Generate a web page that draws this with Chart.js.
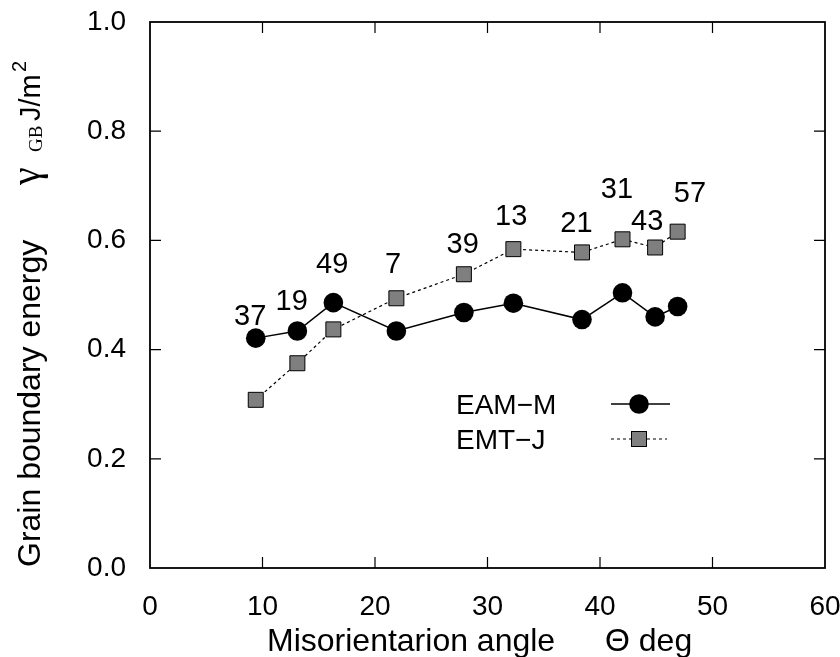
<!DOCTYPE html>
<html>
<head>
<meta charset="utf-8">
<script src="https://cdn.jsdelivr.net/npm/chart.js@4"></script>
<style>
  body { margin: 0; background: #fff; }
  #wrap { width: 840px; height: 657px; }
</style>
</head>
<body>
<div id="wrap"><canvas id="gb-chart"></canvas></div>
<script>
// misorientation angles (deg) and sigma labels
const angles = [9.4, 13.1, 16.3, 21.9, 27.9, 32.3, 38.4, 42.0, 44.9, 46.9];
const sigmaLabels = ['37', '19', '49', '7', '39', '13', '21', '31', '43', '57'];
// where each sigma label sits, in data units
const labelX = [8.9, 12.6, 16.2, 21.6, 27.8, 32.1, 37.9, 41.5, 44.2, 48.0];
const labelY = [0.463, 0.491, 0.558, 0.559, 0.595, 0.647, 0.634, 0.696, 0.637, 0.688];

// grain boundary energies, J/m^2
const eamM = [0.421, 0.434, 0.486, 0.434, 0.468, 0.485, 0.455, 0.504, 0.460, 0.479];
const emtJ = [0.308, 0.375, 0.437, 0.494, 0.538, 0.584, 0.578, 0.602, 0.587, 0.616];

const xTicks = [0, 10, 20, 30, 40, 50, 60];
const yTicks = [0.0, 0.2, 0.4, 0.6, 0.8, 1.0];

const SANS = '"Liberation Sans", Arial, sans-serif';
const SERIF = '"Liberation Serif", "Times New Roman", serif';

function toPoints(ys) {
    return angles.map((a, i) => ({ x: a, y: ys[i] }));
}

const framePlugin = {
    id: 'frame',
    afterDraw(chart) {
        const ctx = chart.ctx;
        const area = chart.chartArea;
        const xs = chart.scales.x;
        const ys = chart.scales.y;
        const tick = 11;

        ctx.save();
        ctx.strokeStyle = '#000';
        ctx.lineWidth = 1.8;
        ctx.strokeRect(area.left, area.top, area.right - area.left, area.bottom - area.top);

        // inward ticks on all four sides
        ctx.lineWidth = 1.2;
        ctx.beginPath();
        xTicks.slice(1, -1).forEach(v => {
            let px = xs.getPixelForValue(v);
            ctx.moveTo(px, area.bottom);
            ctx.lineTo(px, area.bottom - tick);
            ctx.moveTo(px, area.top);
            ctx.lineTo(px, area.top + tick);
        });
        yTicks.slice(1, -1).forEach(v => {
            let py = ys.getPixelForValue(v);
            ctx.moveTo(area.left, py);
            ctx.lineTo(area.left + tick, py);
            ctx.moveTo(area.right, py);
            ctx.lineTo(area.right - tick, py);
        });
        ctx.stroke();

        // sigma labels
        ctx.fillStyle = '#000';
        ctx.font = '29px ' + SANS;
        ctx.textAlign = 'center';
        ctx.textBaseline = 'alphabetic';
        sigmaLabels.forEach((s, i) => {
            let px = xs.getPixelForValue(labelX[i]);
            let py = ys.getPixelForValue(labelY[i]);
            ctx.fillText(s, px, py + 10);
        });

        // x axis title
        ctx.textAlign = 'left';
        ctx.font = '32px ' + SANS;
        ctx.fillText('Misorientarion angle', 267, 651);
        ctx.fillText('\u0398 deg', 605, 651);

        // y axis title, rotated
        ctx.save();
        ctx.translate(40, 0);
        ctx.rotate(-Math.PI / 2);
        ctx.font = '32px ' + SANS;
        ctx.fillText('Grain boundary energy', -567, 0);
        ctx.font = '40px ' + SERIF;
        ctx.fillText('\u03b3', -185, -1);
        ctx.font = '19px ' + SERIF;
        ctx.fillText('GB', -152, 2);
        ctx.font = '29px ' + SANS;
        ctx.fillText('J/m', -121, 0);
        ctx.font = '20px ' + SANS;
        ctx.fillText('2', -72, -14);
        ctx.restore();

        // legend
        ctx.font = '28px ' + SANS;
        ctx.fillText('EAM\u2212M', 456, 414);
        ctx.fillText('EMT\u2212J', 456, 449);

        ctx.lineWidth = 1.5;
        ctx.beginPath();
        ctx.moveTo(611, 404);
        ctx.lineTo(670, 404);
        ctx.stroke();
        ctx.beginPath();
        ctx.arc(639, 404, 9.8, 0, Math.PI * 2);
        ctx.fill();

        ctx.lineWidth = 1.2;
        ctx.setLineDash([3, 3]);
        ctx.beginPath();
        ctx.moveTo(611, 439);
        ctx.lineTo(667, 439);
        ctx.stroke();
        ctx.setLineDash([]);
        ctx.fillStyle = '#7f7f7f';
        ctx.fillRect(631.5, 431.5, 15, 15);
        ctx.lineWidth = 1;
        ctx.strokeRect(631.5, 431.5, 15, 15);
        ctx.restore();
    }
};

const ctx = document.getElementById('gb-chart');
const chart = new Chart(ctx, {
    type: 'scatter',
    data: {
        datasets: [
            {
                label: 'EMT-J',
                data: toPoints(emtJ),
                showLine: true,
                borderColor: '#000',
                borderWidth: 1.2,
                borderDash: [3, 3],
                pointStyle: 'rect',
                pointRadius: 10.6,
                pointBackgroundColor: '#7f7f7f',
                pointBorderColor: '#000',
                pointBorderWidth: 1
            },
            {
                label: 'EAM-M',
                data: toPoints(eamM),
                showLine: true,
                borderColor: '#000',
                borderWidth: 1.5,
                pointStyle: 'circle',
                pointRadius: 9.8,
                pointBackgroundColor: '#000',
                pointBorderColor: '#000',
                pointBorderWidth: 0
            }
        ]
    },
    options: {
        responsive: true,
        maintainAspectRatio: false,
        animation: false,
        devicePixelRatio: 1,
        layout: { padding: { top: 22, right: 15, left: 0, bottom: 0 } },
        plugins: {
            legend: { display: false },
            tooltip: { enabled: false }
        },
        scales: {
            x: {
                type: 'linear',
                min: 0,
                max: 60,
                grid: { display: false, drawTicks: false },
                border: { display: false },
                ticks: {
                    stepSize: 10,
                    padding: 22,
                    color: '#000',
                    font: { family: SANS, size: 28 },
                    maxRotation: 0
                },
                afterFit(scale) {
                    scale.height = 89;
                    scale.paddingLeft = 0;
                    scale.paddingRight = 0;
                }
            },
            y: {
                type: 'linear',
                min: 0,
                max: 1,
                grid: { display: false, drawTicks: false },
                border: { display: false },
                ticks: {
                    stepSize: 0.2,
                    padding: 24,
                    color: '#000',
                    font: { family: SANS, size: 28 },
                    callback: v => v.toFixed(1)
                },
                afterFit(scale) {
                    scale.width = 150;
                    scale.paddingTop = 0;
                    scale.paddingBottom = 0;
                }
            }
        }
    },
    plugins: [framePlugin]
});
</script>
</body>
</html>
